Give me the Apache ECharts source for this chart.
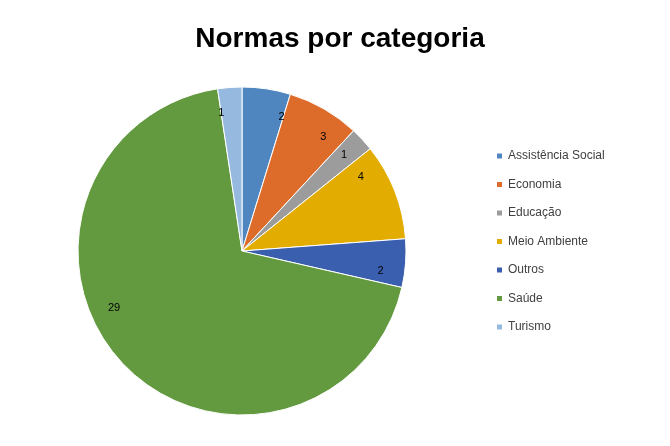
<!DOCTYPE html>
<html><head><meta charset="utf-8">
<script src="https://cdn.jsdelivr.net/npm/echarts@6/dist/echarts.min.js"></script>
<style>html,body{margin:0;padding:0;background:#fff}#c{width:670px;height:446px}</style>
</head><body><div id="c"></div>
<script>
const categories = ["Assistência Social","Economia","Educação","Meio Ambiente","Outros","Saúde","Turismo"];
const values = [2,3,1,4,2,29,1];
const colors = ["#4F86C0","#DD6C2A","#9C9C9C","#E3AC00","#3A5FAE","#639A3F","#96B9E0"];
const chart = echarts.init(document.getElementById('c'));
chart.setOption({
  animation:false,
  title:{text:"Normas por categoria",left:335,top:20,textAlign:'center',
    textStyle:{fontFamily:"Liberation Sans, Arial",fontSize:28,fontWeight:'bold',color:'#000'}},
  legend:{orient:'vertical',left:490,top:145,itemWidth:7,itemHeight:7,itemGap:16.5,icon:'rect',
    textStyle:{fontFamily:"Liberation Sans, Arial",fontSize:12,color:'#404040'},data:categories},
  series:[{type:'pie',center:[242,251],radius:[0,164],startAngle:90,clockwise:true,
    data:categories.map((c,i)=>({name:c,value:values[i],itemStyle:{color:colors[i]}})),
    itemStyle:{borderColor:'#fff',borderWidth:1},
    label:{position:'inside',formatter:'{c}',color:'#000',fontSize:11,fontFamily:"Liberation Sans, Arial",
      distanceToLabelLine:0},
    labelLine:{show:false},
    emphasis:{disabled:true}
  }]
});
// push labels outward toward edge
chart.setOption({series:[{label:{position:'inner'},labelLayout:function(p){
  const cx=242,cy=251;const lx=p.rect.x+p.rect.width/2, ly=p.rect.y+p.rect.height/2;
  const dx=lx-cx, dy=ly-cy, d=Math.sqrt(dx*dx+dy*dy)||1; const r=140;
  return {x:cx+dx/d*r, y:cy+dy/d*r, align:'center', verticalAlign:'middle'};
}}]});
</script></body></html>
